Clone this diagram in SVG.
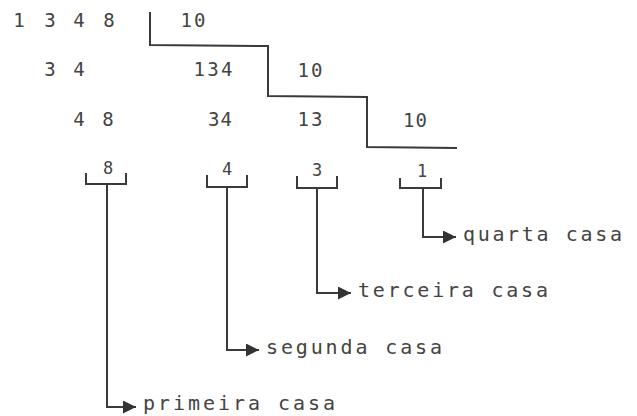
<svg xmlns="http://www.w3.org/2000/svg" width="637" height="416" viewBox="0 0 637 416">
<style>
.n{font-family:"DejaVu Sans Mono","Liberation Mono",monospace;font-size:19px;fill:#444;text-anchor:middle}
.s{font-family:"DejaVu Sans Mono","Liberation Mono",monospace;font-size:17px;fill:#444;text-anchor:middle}
.l{font-family:"DejaVu Sans Mono","Liberation Mono",monospace;font-size:20px;fill:#444}
.ln{fill:none;stroke:#3a3a3a;stroke-width:2}
</style>
<defs>
<marker id="ah" viewBox="0 0 10 10" refX="10" refY="5" markerUnits="userSpaceOnUse" markerWidth="14" markerHeight="13" orient="auto">
<path d="M0,0 L10,5 L0,10 z" fill="#333"/>
</marker>
</defs>
<rect width="637" height="416" fill="#fff"/>
<g id="row1">
<text class="n" x="19" y="27">1</text>
<text class="n" x="50" y="27">3</text>
<text class="n" x="79" y="27">4</text>
<text class="n" x="109" y="27">8</text>
<text class="n" x="193" y="27" textLength="25" lengthAdjust="spacing">10</text>
</g>
<g id="row2">
<text class="n" x="50" y="76">3</text>
<text class="n" x="79" y="76">4</text>
<text class="n" x="213" y="76" textLength="39" lengthAdjust="spacing">134</text>
<text class="n" x="310" y="77" textLength="25" lengthAdjust="spacing">10</text>
</g>
<g id="row3">
<text class="n" x="79" y="126">4</text>
<text class="n" x="108" y="126">8</text>
<text class="n" x="220" y="126" textLength="24" lengthAdjust="spacing">34</text>
<text class="n" x="310" y="126" textLength="25" lengthAdjust="spacing">13</text>
<text class="n" x="415" y="127" textLength="24" lengthAdjust="spacing">10</text>
</g>
<g id="casa1">
<text class="s" x="108" y="174">8</text>
<text class="l" x="143" y="410" textLength="192" lengthAdjust="spacing">primeira casa</text>
</g>
<g id="casa2">
<text class="s" x="227" y="175">4</text>
<text class="l" x="266" y="354" textLength="176" lengthAdjust="spacing">segunda casa</text>
</g>
<g id="casa3">
<text class="s" x="317" y="176">3</text>
<text class="l" x="358" y="297" textLength="190" lengthAdjust="spacing">terceira casa</text>
</g>
<g id="casa4">
<text class="s" x="422" y="177">1</text>
<text class="l" x="463" y="241" textLength="159" lengthAdjust="spacing">quarta casa</text>
</g>
<g id="connectors">
<polyline class="ln" points="150,12 150,45 268,46 268,96 367,97 367,147 457,148"/>
<path class="ln" d="M86,173 V184 H126 V173"/>
<path class="ln" d="M207,175 V187 H247 V175"/>
<path class="ln" d="M297,176 V188 H337 V176"/>
<path class="ln" d="M400,178 V188 H441 V178"/>
<polyline class="ln" points="107,184 107,407 136,407" marker-end="url(#ah)"/>
<polyline class="ln" points="227,187 227,350 259,350" marker-end="url(#ah)"/>
<polyline class="ln" points="317,188 317,293 351,293" marker-end="url(#ah)"/>
<polyline class="ln" points="423,188 423,237 456,237" marker-end="url(#ah)"/>
</g>
</svg>
